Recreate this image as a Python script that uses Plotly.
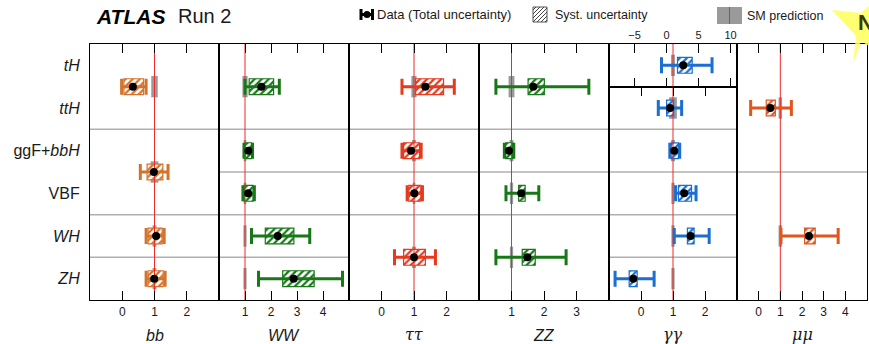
import plotly.graph_objects as go

W, H = 869, 344
ML, MR, MT, MB = 90, 2, 44, 44
FONT = "Liberation Sans, Arial, Helvetica, sans-serif"
SERIF = "DejaVu Serif, serif"

# ---------------- data ----------------
production_labels = ["<i>tH</i>", "<i>ttH</i>", "ggF+<i>bbH</i>", "VBF", "<i>WH</i>", "<i>ZH</i>"]
decay_titles = ["<i>bb</i>", "<i>WW</i>", "<i>ττ</i>", "<i>ZZ</i>", "<i>γγ</i>", "<i>μμ</i>"]
decay_title_serif = [False, False, True, False, True, True]

# bb
bb_rows = [0.5, 2.5, 4, 5]
bb_mu = [0.33, 0.98, 1.05, 0.99]
bb_tot_lo = [-0.02, 0.56, 0.74, 0.74]
bb_tot_hi = [0.74, 1.42, 1.30, 1.33]
bb_sys_lo = [0.05, 0.77, 0.80, 0.80]
bb_sys_hi = [0.66, 1.26, 1.24, 1.27]
bb_sm = [0.10, 0.12, 0.06, 0.06]

# WW
ww_rows = [0.5, 2, 3, 4, 5]
ww_mu = [1.63, 1.13, 1.12, 2.26, 2.87]
ww_tot_lo = [1.00, 0.96, 0.92, 1.25, 1.52]
ww_tot_hi = [2.32, 1.29, 1.36, 3.49, 4.75]
ww_sys_lo = [1.16, 1.00, 0.97, 1.78, 2.45]
ww_sys_hi = [2.10, 1.25, 1.31, 2.88, 3.66]
ww_sm = [0.10, 0.05, 0.05, 0.06, 0.06]

# tautau
tt_rows = [0.5, 2, 3, 4.5]
tt_mu = [1.35, 0.91, 1.01, 1.00]
tt_tot_lo = [0.63, 0.63, 0.79, 0.40]
tt_tot_hi = [2.24, 1.22, 1.26, 1.66]
tt_sys_lo = [1.05, 0.68, 0.84, 0.68]
tt_sys_hi = [1.91, 1.17, 1.21, 1.35]
tt_sm = [0.08, 0.06, 0.04, 0.06]

# ZZ
zz_rows = [0.5, 2, 3, 4.5]
zz_mu = [1.67, 0.92, 1.30, 1.49]
zz_tot_lo = [0.52, 0.78, 0.83, 0.52]
zz_tot_hi = [3.38, 1.07, 1.84, 2.68]
zz_sys_lo = [1.51, 0.82, 1.22, 1.33]
zz_sys_hi = [2.01, 1.03, 1.42, 1.73]
zz_sm = [0.09, 0.06, 0.05, 0.05]

# gamma gamma, tH (own scale)
gth_rows = [0]
gth_mu = [2.6]
gth_tot_lo = [-0.8]
gth_tot_hi = [7.1]
gth_sys_lo = [1.7]
gth_sys_hi = [4.0]
gth_sm = [0.3]

# gamma gamma, other modes
gg_rows = [1, 2, 3, 4, 5]
gg_mu = [0.91, 1.04, 1.35, 1.55, -0.24]
gg_tot_lo = [0.54, 0.90, 1.08, 1.04, -0.81]
gg_tot_hi = [1.27, 1.21, 1.72, 2.13, 0.41]
gg_sys_lo = [0.80, 0.94, 1.17, 1.45, -0.37]
gg_sys_hi = [1.02, 1.17, 1.58, 1.66, -0.12]
gg_sm = [0.12, 0.06, 0.05, 0.05, 0.05]

# mu mu
mm_rows = [1, 4]
mm_mu = [0.54, 2.32]
mm_tot_lo = [-0.37, 1.03]
mm_tot_hi = [1.51, 3.67]
mm_sys_lo = [0.35, 2.12]
mm_sys_hi = [0.77, 2.61]
mm_sm = [0.08, 0.08]

# axis settings
x_ranges = {1: [-1, 3], 2: [0, 5], 3: [-1, 3], 4: [0, 4], 5: [-1, 3], 6: [-9, 11], 7: [-1, 5]}
x_ticks = {1: [0, 1, 2], 2: [1, 2, 3, 4], 3: [0, 1, 2], 4: [1, 2, 3], 5: [0, 1, 2],
           6: [-5, 0, 5, 10], 7: [0, 1, 2, 3, 4]}
row_separators = {1: [1.5, 3.5, 4.5], 2: [1.5, 2.5, 3.5, 4.5], 3: [1.5, 2.5, 3.5],
                  4: [1.5, 2.5, 3.5], 5: [1.5, 2.5, 3.5, 4.5], 7: [2.5]}

C_BB = "#d4742c"
C_WW = "#187818"
C_TT = "#e63a1e"
C_ZZ = "#187818"
C_GG = "#1a6fd0"
C_MM = "#e0561c"
C_SM = "#9a9a9a"
C_RED = "#ee2a2a"

channels = [
    dict(ax=1, color=C_BB, rows=bb_rows, mu=bb_mu, tlo=bb_tot_lo, thi=bb_tot_hi, slo=bb_sys_lo, shi=bb_sys_hi, sm=bb_sm),
    dict(ax=2, color=C_WW, rows=ww_rows, mu=ww_mu, tlo=ww_tot_lo, thi=ww_tot_hi, slo=ww_sys_lo, shi=ww_sys_hi, sm=ww_sm),
    dict(ax=3, color=C_TT, rows=tt_rows, mu=tt_mu, tlo=tt_tot_lo, thi=tt_tot_hi, slo=tt_sys_lo, shi=tt_sys_hi, sm=tt_sm),
    dict(ax=4, color=C_ZZ, rows=zz_rows, mu=zz_mu, tlo=zz_tot_lo, thi=zz_tot_hi, slo=zz_sys_lo, shi=zz_sys_hi, sm=zz_sm),
    dict(ax=5, color=C_GG, rows=gg_rows, mu=gg_mu, tlo=gg_tot_lo, thi=gg_tot_hi, slo=gg_sys_lo, shi=gg_sys_hi, sm=gg_sm),
    dict(ax=6, color=C_GG, rows=gth_rows, mu=gth_mu, tlo=gth_tot_lo, thi=gth_tot_hi, slo=gth_sys_lo, shi=gth_sys_hi, sm=gth_sm),
    dict(ax=7, color=C_MM, rows=mm_rows, mu=mm_mu, tlo=mm_tot_lo, thi=mm_tot_hi, slo=mm_sys_lo, shi=mm_sys_hi, sm=mm_sm),
]

# ---------------- layout geometry ----------------
PW = W - ML - MR
PH = H - MT - MB
def px(xp):
    return (xp - ML) / PW
def py(yp):
    return (H - MB - yp) / PH

edges = [90, 219, 349, 479, 609, 737, 867]
xdom = {1: (0, 1), 2: (1, 2), 3: (2, 3), 4: (3, 4), 5: (4, 5), 6: (4, 5), 7: (5, 6)}
ydom = {i: [0, 1] for i in range(1, 8)}
ydom[5] = [0, 5 / 6]
ydom[6] = [5 / 6, 1]
yrng = {i: [5.5, -0.5] for i in range(1, 8)}
yrng[5] = [5.5, 0.5]
yrng[6] = [0.5, -0.5]

fig = go.Figure()

def ax_names(i):
    return ("x" if i == 1 else f"x{i}"), ("y" if i == 1 else f"y{i}")

for ch in channels:
    xa, ya = ax_names(ch["ax"])
    c = ch["color"]
    # SM prediction band
    fig.add_trace(go.Bar(
        y=ch["rows"], x=[2 * w for w in ch["sm"]], base=[1 - w for w in ch["sm"]],
        orientation="h", width=0.5, marker=dict(color=C_SM, line=dict(width=0)),
        xaxis=xa, yaxis=ya, showlegend=False, hoverinfo="skip"))
    # systematic uncertainty box
    fig.add_trace(go.Bar(
        y=ch["rows"], x=[h - l for l, h in zip(ch["slo"], ch["shi"])], base=ch["slo"],
        orientation="h", width=0.37,
        marker=dict(color="white", line=dict(color=c, width=1.2),
                    pattern=dict(shape="/", fgcolor=c, bgcolor="white", size=5,
                                 solidity=0.45, fillmode="replace")),
        xaxis=xa, yaxis=ya, showlegend=False, hoverinfo="skip"))
    # SM line
    fig.add_trace(go.Scatter(
        x=[1, 1], y=[yrng[ch["ax"]][0], yrng[ch["ax"]][1]], mode="lines",
        line=dict(color=C_RED, width=1), xaxis=xa, yaxis=ya,
        showlegend=False, hoverinfo="skip"))
    # data with total uncertainty
    fig.add_trace(go.Scatter(
        x=ch["mu"], y=ch["rows"], mode="markers",
        marker=dict(color="black", size=8),
        error_x=dict(type="data", symmetric=False,
                     array=[h - m for m, h in zip(ch["mu"], ch["thi"])],
                     arrayminus=[m - l for m, l in zip(ch["mu"], ch["tlo"])],
                     color=c, thickness=3, width=8),
        xaxis=xa, yaxis=ya, showlegend=False, hoverinfo="skip"))

layout = dict(
    width=W, height=H, margin=dict(l=ML, r=MR, t=MT, b=MB, pad=0, autoexpand=False),
    paper_bgcolor="white", plot_bgcolor="white", barmode="overlay",
    font=dict(family=FONT, color="#1a1a1a", size=12), showlegend=False,
)
for i in range(1, 8):
    a, b = xdom[i]
    xk = "xaxis" if i == 1 else f"xaxis{i}"
    yk = "yaxis" if i == 1 else f"yaxis{i}"
    xa, ya = ax_names(i)
    tv = x_ticks[i]
    layout[xk] = dict(
        domain=[px(edges[a]), px(edges[b])], range=x_ranges[i], anchor=ya, automargin=False,
        showgrid=False, zeroline=False, showline=True, linecolor="black", linewidth=1.2,
        mirror="ticks", ticks="inside", ticklen=9, tickwidth=1, tickcolor="black",
        tickvals=tv, ticktext=[str(v).replace("-", "\u2212") for v in tv],
        tickfont=dict(size=12 if i != 6 else 11, family=FONT),
        side="top" if i == 6 else "bottom", fixedrange=True)
    layout[yk] = dict(
        domain=ydom[i], range=yrng[i], anchor=xa, automargin=False,
        showgrid=False, zeroline=False, showline=True, linecolor="black", linewidth=1.2,
        mirror=True, ticks="", showticklabels=(i == 1), fixedrange=True)
layout["yaxis"].update(tickvals=list(range(6)), ticktext=production_labels,
                       tickfont=dict(size=16, family=FONT, color="#1a1a1a"),
                       ticklabelstandoff=6)

shapes = []
for i, seps in row_separators.items():
    xa, ya = ax_names(i)
    for s in seps:
        shapes.append(dict(type="line", xref=f"{xa} domain", yref=ya, x0=0, x1=1, y0=s, y1=s,
                           line=dict(color="#b0b0b0", width=1.5), layer="below"))

annotations = []
# decay mode titles
for k, t in enumerate(decay_titles):
    xc = (edges[k] + edges[k + 1]) / 2
    serif = decay_title_serif[k]
    annotations.append(dict(text=t, x=px(xc), y=py(334 if serif else 335), xref="paper", yref="paper",
                            showarrow=False, xanchor="center", yanchor="middle",
                            font=dict(size=16, family=SERIF if serif else FONT,
                                      color="#1a1a1a")))

# ATLAS label
annotations.append(dict(text="<b><i>ATLAS</i></b>", x=px(94), y=py(16), xref="paper", yref="paper",
                        showarrow=False, xanchor="left", yanchor="middle",
                        font=dict(size=21, family=FONT, color="black")))
annotations.append(dict(text="Run 2", x=px(176), y=py(16), xref="paper", yref="paper",
                        showarrow=False, xanchor="left", yanchor="middle",
                        font=dict(size=20, family=FONT, color="#1a1a1a")))

# legend: data icon
ly = 14.5
shapes.append(dict(type="line", xref="paper", yref="paper", x0=px(360), x1=px(373), y0=py(ly), y1=py(ly),
                   line=dict(color="black", width=3)))
for xx in (361, 372.5):
    shapes.append(dict(type="line", xref="paper", yref="paper", x0=px(xx), x1=px(xx), y0=py(ly - 5.5), y1=py(ly + 5.5),
                       line=dict(color="black", width=3)))
shapes.append(dict(type="circle", xref="paper", yref="paper", x0=px(363.5), x1=px(370.5), y0=py(ly - 3.5), y1=py(ly + 3.5),
                   fillcolor="black", line=dict(color="black", width=0)))
annotations.append(dict(text="Data (Total uncertainty)", x=px(375), y=py(ly), xref="paper", yref="paper",
                        showarrow=False, xanchor="left", yanchor="middle",
                        font=dict(size=13, family=FONT, color="#1a1a1a")))
# legend: syst box with hatching
bx0, bx1, by0, by1 = 533, 547, 7, 22
shapes.append(dict(type="rect", xref="paper", yref="paper", x0=px(bx0), x1=px(bx1), y0=py(by1), y1=py(by0),
                   fillcolor="white", line=dict(color="#555", width=1)))
c0 = bx0 + by0 + 3
while c0 < bx1 + by1:
    xa_ = max(bx0, c0 - by1)
    xb_ = min(bx1, c0 - by0)
    if xb_ > xa_:
        shapes.append(dict(type="line", xref="paper", yref="paper",
                           x0=px(xa_), y0=py(c0 - xa_), x1=px(xb_), y1=py(c0 - xb_),
                           line=dict(color="#444", width=1)))
    c0 += 4
annotations.append(dict(text="Syst. uncertainty", x=px(553), y=py(ly), xref="paper", yref="paper",
                        showarrow=False, xanchor="left", yanchor="middle",
                        font=dict(size=12.5, family=FONT, color="#1a1a1a")))
# legend: SM prediction
shapes.append(dict(type="rect", xref="paper", yref="paper", x0=px(717), x1=px(742), y0=py(24), y1=py(7),
                   fillcolor=C_SM, line=dict(width=0)))
shapes.append(dict(type="line", xref="paper", yref="paper", x0=px(729.5), x1=px(729.5), y0=py(24), y1=py(7),
                   line=dict(color=C_RED, width=1)))
annotations.append(dict(text="SM prediction", x=px(745), y=py(ly + 1), xref="paper", yref="paper",
                        showarrow=False, xanchor="left", yanchor="middle",
                        font=dict(size=12.5, family=FONT, color="#1a1a1a")))

# yellow corner decoration
pts = [(832, 10), (861, 13), (869, 6), (869, 46), (861, 41), (853, 64), (856, 36)]
path = "M " + " L ".join(f"{px(a):.5f},{py(b):.5f}" for a, b in pts) + " Z"
shapes.append(dict(type="path", xref="paper", yref="paper", path=path,
                   fillcolor="rgba(255,255,90,0.85)", line=dict(width=0), layer="above"))
annotations.append(dict(text="<b>N</b>", x=px(856), y=py(22), xref="paper", yref="paper",
                        showarrow=False, xanchor="left", yanchor="middle",
                        font=dict(size=22, family=FONT, color="#3a3a10")))

layout["shapes"] = shapes
layout["annotations"] = annotations
fig.update_layout(**layout)
fig.write_html("out.html", config={"displayModeBar": False},
               post_script="document.body.style.margin='0px';document.body.style.overflow='hidden';")
